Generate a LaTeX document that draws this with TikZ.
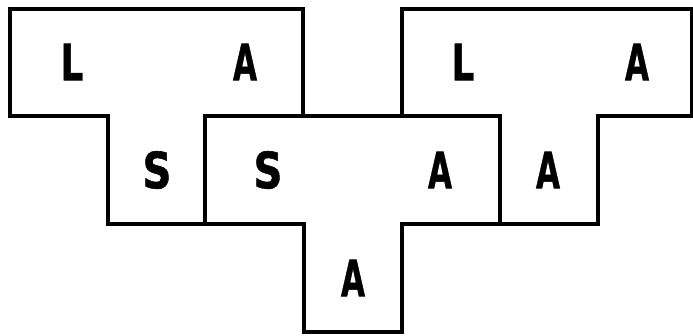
\documentclass[tikz,border=0pt]{standalone}
\usepackage{fontspec}
\setmainfont{DejaVu Sans}
\newfontfamily\lblfont[FakeBold=1.2]{DejaVu Sans Bold}
\begin{document}
\begin{tikzpicture}[x=1pt,y=-1pt,
  tshape/.style={draw=black,line width=4.5pt,line join=miter,fill=white},
  lbl/.style={inner sep=0pt,font=\fontsize{50}{50}\lblfont}]
\useasboundingbox (0,0) rectangle (693,336);
\fill[white] (0,0) rectangle (693,336);
% left T
\draw[tshape] (10,9) -- (303,9) -- (303,116) -- (205,116) -- (205,224) -- (108,224) -- (108,116) -- (10,116) -- cycle;
% right T
\draw[tshape] (402,9) -- (692,9) -- (692,116) -- (598,116) -- (598,224) -- (500,224) -- (500,116) -- (402,116) -- cycle;
% middle T
\draw[tshape] (205,116) -- (500,116) -- (500,224) -- (402,224) -- (402,332) -- (304,332) -- (304,224) -- (205,224) -- cycle;
% labels
\node[lbl] (l1) at (72,62) {\scalebox{0.72}[1]{L}};
\node[lbl] (a1) at (245,62) {\scalebox{0.62}[1]{A}};
\node[lbl] (s1) at (157,170) {\scalebox{0.8}[1]{S}};
\node[lbl] (s2) at (268,170) {\scalebox{0.8}[1]{S}};
\node[lbl] (a2) at (440,170) {\scalebox{0.62}[1]{A}};
\node[lbl] (a3) at (548,170) {\scalebox{0.62}[1]{A}};
\node[lbl] (a4) at (353,278) {\scalebox{0.62}[1]{A}};
\node[lbl] (l2) at (463,62) {\scalebox{0.72}[1]{L}};
\node[lbl] (a5) at (637,62) {\scalebox{0.62}[1]{A}};
\end{tikzpicture}
\end{document}
